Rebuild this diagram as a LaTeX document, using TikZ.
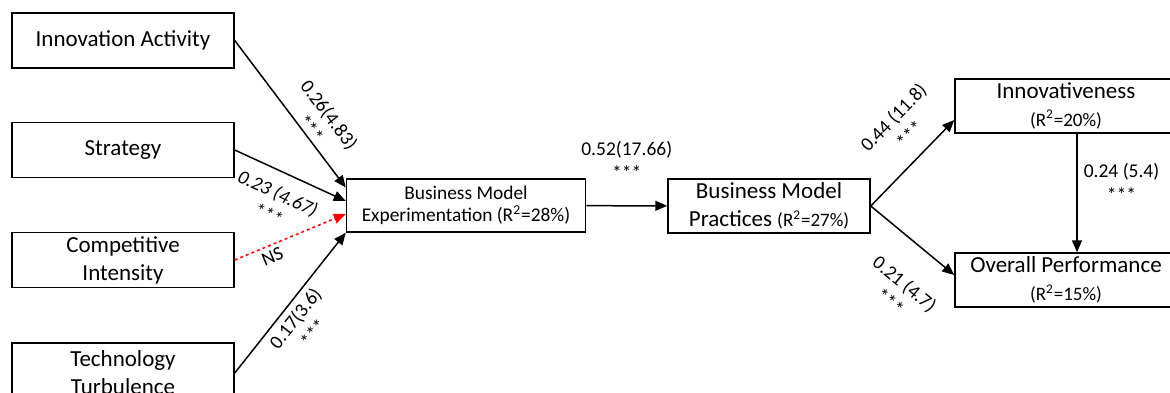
\documentclass[tikz,border=0pt]{standalone}
\usepackage{fontspec}
\setmainfont{Carlito}
\usetikzlibrary{arrows.meta}
\begin{document}
\begin{tikzpicture}[x=0.5pt, y=-0.5pt,
    box/.style={draw, line width=0.75pt, minimum width=111pt, minimum height=27.5pt,
        inner sep=0pt, align=center, font=\fontsize{11.5}{14}\selectfont},
    lbl/.style={font=\fontsize{9.75}{11.7}\selectfont, align=center, inner sep=0pt},
    arr/.style={line width=0.75pt, -{Triangle[length=6pt, width=5pt]}},
    ]
    \useasboundingbox (0, 0) rectangle (1170, 392);

    \node[box] (0) at (123, 40.5) {Innovation Activity};
    \node[box] (1) at (123, 150) {Strategy};
    \node[box] (2) at (123, 260) {Competitive\\Intensity};
    \node[box, minimum height=30pt] (3) at (123, 373) {Technology\\Turbulence};
    \node[box, minimum width=119.5pt, minimum height=26.5pt,
        font=\fontsize{9.7}{11}\selectfont] (4) at (466, 205.5)
        {Business Model\\Experimentation (R\textsuperscript{2}=28\%)};
    \node[box, minimum width=101pt, minimum height=27pt] (5) at (769, 206)
        {Business Model\\Practices {\fontsize{9.5}{11}\selectfont(R\textsuperscript{2}=27\%)}};
    \node[box, minimum height=27pt] (6) at (1066, 106)
        {Innovativeness\\{\fontsize{9.5}{11}\selectfont(R\textsuperscript{2}=20\%)}};
    \node[box, minimum height=27pt] (7) at (1066, 280)
        {Overall Performance\\{\fontsize{9.5}{11}\selectfont(R\textsuperscript{2}=15\%)}};

    \draw[arr] (0.east) -- ([yshift=9pt]4.west)
        node[lbl, sloped, above, pos=0.63] {0.26(4.83)\\***};
    \draw[arr] (1.east) -- ([yshift=2.25pt]4.west)
        node[lbl, sloped, below=6.5pt, pos=0.47,
            font=\fontsize{9.75}{11.7}\selectfont\itshape] {0.23 (4.67)\\***};
    \draw[arr, red, dash pattern=on 1.5pt off 1.5pt] (2.east) -- ([yshift=-4.25pt]4.west)
        node[lbl, sloped, below=2pt, pos=0.3, text=black] {NS};
    \draw[arr] (3.east) -- (4.south west)
        node[lbl, sloped, below=2.5pt, pos=0.45] {0.17(3.6)\\***};
    \draw[arr] (4) -- (5)
        node[lbl, above=13pt, midway] {0.52(17.66)\\***};
    \draw[arr] (5.east) -- ([yshift=-7pt]6.west)
        node[lbl, sloped, above=7.3pt, pos=0.66] {0.44 (11.8)\\***};
    \draw[arr] (5.east) -- ([yshift=2.5pt]7.west)
        node[lbl, sloped, below=15pt, pos=0.7] {0.21 (4.7)\\***};
    \draw[arr] ([xshift=5.5pt]6.south) -- ([xshift=5.5pt]7.north)
        node[lbl, right=3pt, pos=0.41] {0.24 (5.4)\\***};
\end{tikzpicture}
\end{document}
